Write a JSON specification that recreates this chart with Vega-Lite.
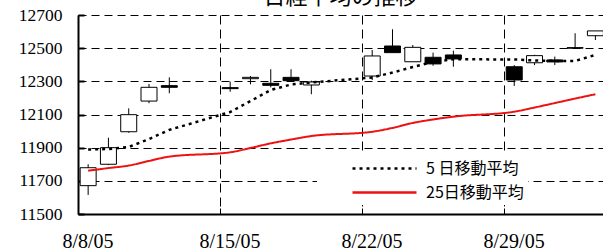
{
  "$schema": "https://vega.github.io/schema/vega-lite/v6.json",
  "width": 525,
  "height": 199,
  "autosize": {"type": "none"},
  "padding": {"left": 78, "top": 15, "right": 0, "bottom": 37},
  "background": "white",
  "title": {"text": "日経平均の推移", "font": "Noto Sans CJK JP", "fontSize": 22, "fontWeight": "normal", "anchor": "middle", "frame": "group", "baseline": "alphabetic", "offset": 0, "dy": 20, "color": "black"},
  "config": {
    "view": {"stroke": null},
    "axisY": {
      "title": null, "format": "d",
      "grid": true, "gridDash": [8, 5], "gridColor": "black", "gridWidth": 1, "gridOpacity": 1,
      "domainColor": "black", "domainWidth": 2,
      "tickColor": "black", "tickWidth": 2, "tickSize": -6,
      "labelPadding": 22, "labelFlush": false, "labelOverlap": false,
      "labelFont": "Liberation Serif", "labelFontSize": 17.5, "labelColor": "black"
    }
  },
  "data": {"values": [
    {"date": "2005-08-08", "open": 11671, "high": 11800, "low": 11615, "close": 11779, "ma5": 11889, "ma25": 11761},
    {"date": "2005-08-09", "open": 11800, "high": 11960, "low": 11795, "close": 11900, "ma5": 11892, "ma25": 11777},
    {"date": "2005-08-10", "open": 11996, "high": 12137, "low": 11990, "close": 12099, "ma5": 11904, "ma25": 11792},
    {"date": "2005-08-11", "open": 12181, "high": 12284, "low": 12168, "close": 12264, "ma5": 11952, "ma25": 11820},
    {"date": "2005-08-12", "open": 12274, "high": 12324, "low": 12228, "close": 12264, "ma5": 12007, "ma25": 11846},
    {"date": "2005-08-15", "open": 12262, "high": 12298, "low": 12237, "close": 12256, "ma5": 12115, "ma25": 11872},
    {"date": "2005-08-16", "open": 12316, "high": 12332, "low": 12282, "close": 12324, "ma5": 12181, "ma25": 11898},
    {"date": "2005-08-17", "open": 12288, "high": 12373, "low": 12264, "close": 12276, "ma5": 12248, "ma25": 11926},
    {"date": "2005-08-18", "open": 12324, "high": 12373, "low": 12300, "close": 12304, "ma5": 12281, "ma25": 11949},
    {"date": "2005-08-19", "open": 12278, "high": 12304, "low": 12222, "close": 12296, "ma5": 12293, "ma25": 11970},
    {"date": "2005-08-22", "open": 12332, "high": 12489, "low": 12308, "close": 12453, "ma5": 12323, "ma25": 11996},
    {"date": "2005-08-23", "open": 12513, "high": 12614, "low": 12473, "close": 12473, "ma5": 12353, "ma25": 12019},
    {"date": "2005-08-24", "open": 12418, "high": 12519, "low": 12418, "close": 12505, "ma5": 12386, "ma25": 12049},
    {"date": "2005-08-25", "open": 12445, "high": 12473, "low": 12394, "close": 12405, "ma5": 12417, "ma25": 12070},
    {"date": "2005-08-26", "open": 12459, "high": 12485, "low": 12388, "close": 12435, "ma5": 12433, "ma25": 12087},
    {"date": "2005-08-29", "open": 12388, "high": 12398, "low": 12272, "close": 12308, "ma5": 12432, "ma25": 12117},
    {"date": "2005-08-30", "open": 12412, "high": 12460, "low": 12398, "close": 12455, "ma5": 12426, "ma25": 12142},
    {"date": "2005-08-31", "open": 12429, "high": 12449, "low": 12398, "close": 12417, "ma5": 12423, "ma25": 12169},
    {"date": "2005-09-01", "open": 12503, "high": 12590, "low": 12499, "close": 12500, "ma5": 12423, "ma25": 12196},
    {"date": "2005-09-02", "open": 12575, "high": 12604, "low": 12549, "close": 12604, "ma5": 12459, "ma25": 12222}
  ]},
  "encoding": {
    "x": {
      "field": "date", "type": "temporal", "timeUnit": "utcyearmonthdate", "bandPosition": 0.5,
      "scale": {"type": "utc", "domain": [{"year": 2005, "month": 8, "date": 8, "utc": true}, {"year": 2005, "month": 9, "date": 2, "hours": 21, "utc": true}]},
      "axis": {
        "title": null,
        "values": [{"year": 2005, "month": 8, "date": 8, "utc": true}, {"year": 2005, "month": 8, "date": 15, "utc": true}, {"year": 2005, "month": 8, "date": 22, "utc": true}, {"year": 2005, "month": 8, "date": 29, "utc": true}],
        "labelExpr": "utcFormat(datum.value, '%-m/%-d/%y')",
        "grid": true, "gridDash": [9, 5], "gridColor": "black", "gridWidth": 1, "gridOpacity": 1,
        "domainColor": "black", "domainWidth": 2,
        "tickColor": "black", "tickWidth": 1, "tickSize": -6,
        "labelOffset": 9.5, "labelFlush": false, "labelPadding": 23, "labelOverlap": false,
        "labelFont": "Liberation Serif", "labelFontSize": 20, "labelColor": "black"
      }
    }
  },
  "layer": [
    {
      "mark": {"type": "rule", "color": "black", "strokeWidth": 1},
      "encoding": {
        "y": {"field": "low", "type": "quantitative",
          "scale": {"domain": [11500, 12700], "nice": false, "zero": false},
          "axis": {"values": [11500, 11700, 11900, 12100, 12300, 12500, 12700]}
        },
        "y2": {"field": "high"}
      }
    },
    {
      "mark": {"type": "bar", "width": 16, "stroke": "black", "strokeWidth": 1},
      "encoding": {
        "y": {"field": "open", "type": "quantitative", "axis": {"values": [11500, 11700, 11900, 12100, 12300, 12500, 12700]}},
        "y2": {"field": "close"},
        "fill": {"condition": {"test": "datum.open > datum.close", "value": "black"}, "value": "white"}
      }
    },
    {
      "mark": {"type": "line", "strokeWidth": 2.5},
      "encoding": {
        "y": {"field": "ma5", "type": "quantitative", "axis": {"values": [11500, 11700, 11900, 12100, 12300, 12500, 12700]}},
        "color": {"datum": "5 日移動平均", "type": "nominal",
          "scale": {"domain": ["5 日移動平均", "25日移動平均"], "range": ["black", "#ee1111"]},
          "legend": {"orient": "none", "legendX": 239, "legendY": 140, "fillColor": "white", "padding": 4, "symbolType": "M-4,0H4", "symbolSize": 256, "symbolStrokeWidth": 2.5, "symbolOffset": 54, "labelFont": "Noto Sans CJK JP", "labelFontSize": 16, "labelColor": "black", "labelOffset": 32, "rowPadding": 6, "title": null, "labelLimit": 300}
        },
        "strokeDash": {"datum": "5 日移動平均", "type": "nominal",
          "scale": {"domain": ["5 日移動平均", "25日移動平均"], "range": [[3, 4], [1, 0]]},
          "legend": {"orient": "none", "legendX": 239, "legendY": 140, "fillColor": "white", "padding": 4, "symbolType": "M-4,0H4", "symbolSize": 256, "symbolStrokeWidth": 2.5, "symbolOffset": 54, "labelFont": "Noto Sans CJK JP", "labelFontSize": 16, "labelColor": "black", "labelOffset": 32, "rowPadding": 6, "title": null, "labelLimit": 300}
        }
      }
    },
    {
      "mark": {"type": "line", "strokeWidth": 2, "interpolate": "monotone"},
      "encoding": {
        "y": {"field": "ma25", "type": "quantitative", "axis": {"values": [11500, 11700, 11900, 12100, 12300, 12500, 12700]}},
        "color": {"datum": "25日移動平均", "type": "nominal"},
        "strokeDash": {"datum": "25日移動平均", "type": "nominal"}
      }
    }
  ]
}
